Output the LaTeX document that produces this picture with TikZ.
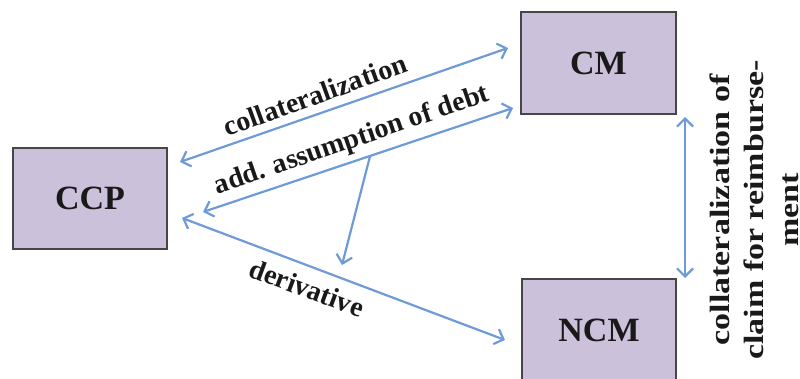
\documentclass[tikz,border=0pt]{standalone}
\usepackage{fontspec}
\usepackage{graphicx}
\setmainfont{Liberation Serif}
\usetikzlibrary{arrows.meta,calc}
\definecolor{boxfill}{RGB}{204,193,218}
\definecolor{boxline}{RGB}{70,70,70}
\definecolor{arrowblue}{RGB}{110,155,215}
\definecolor{txt}{RGB}{25,25,25}
\tikzset{
  partybox/.style={draw=boxline, fill=boxfill, line width=2pt, inner sep=0pt,
    font=\bfseries\fontsize{34}{36}\selectfont, text=txt},
  link/.style={draw=arrowblue, line width=2.2pt,
    {Straight Barb[length=8pt,width=16pt]}-{Straight Barb[length=8pt,width=16pt]}},
  onelink/.style={draw=arrowblue, line width=2.2pt, -{Straight Barb[length=8pt,width=16pt]}},
  lbl/.style={font=\bfseries\fontsize{28}{30}\selectfont, text=txt, inner sep=0pt},
}
\begin{document}
\begin{tikzpicture}[x=1pt,y=-1pt]
\clip (0,0) rectangle (800,379);
\fill[white] (0,0) rectangle (800,379);
\node[partybox, minimum width=154pt, minimum height=101pt] (CCP) at (90,198.5) {CCP};
\node[partybox, minimum width=155pt, minimum height=102pt] (CM) at (598.5,63) {CM};
\node[partybox, minimum width=154pt, minimum height=102pt] (NCM) at (599,330) {NCM};
% connector ends
\coordinate (c1) at (180,162);
\coordinate (c2) at (508,48);
\coordinate (a1) at (203,212);
\coordinate (a2) at (513,108);
\coordinate (d1) at (182,218);
\coordinate (d2) at (505,340);
\coordinate (v1) at (685,117);
\coordinate (v2) at (685,278);
\coordinate (bs) at ($(a1)!0.539!(a2)$);
\coordinate (be) at (342,265);
\draw[link] (c1) -- (c2);
\draw[link] (a1) -- (a2);
\draw[link] (d1) -- (d2);
\draw[link] (v1) -- (v2);
\draw[onelink] (bs) -- (be);
% labels
\node[lbl, rotate=20] (lcol) at (315,95) {collateralization};
\node[lbl, rotate=19] (ladd) at (352,141) {add. assumption of debt};
\node[lbl, rotate=-20.5] (lder) at (307,288) {derivative};
\node[lbl, rotate=90] (lver) at (757,210)
  {\scalebox{1}[0.82]{\bfseries\fontsize{34}{42}\selectfont\begin{tabular}{@{}c@{}}collateralization of\\claim for reimburse-\\ment\end{tabular}}};
\end{tikzpicture}
\end{document}
